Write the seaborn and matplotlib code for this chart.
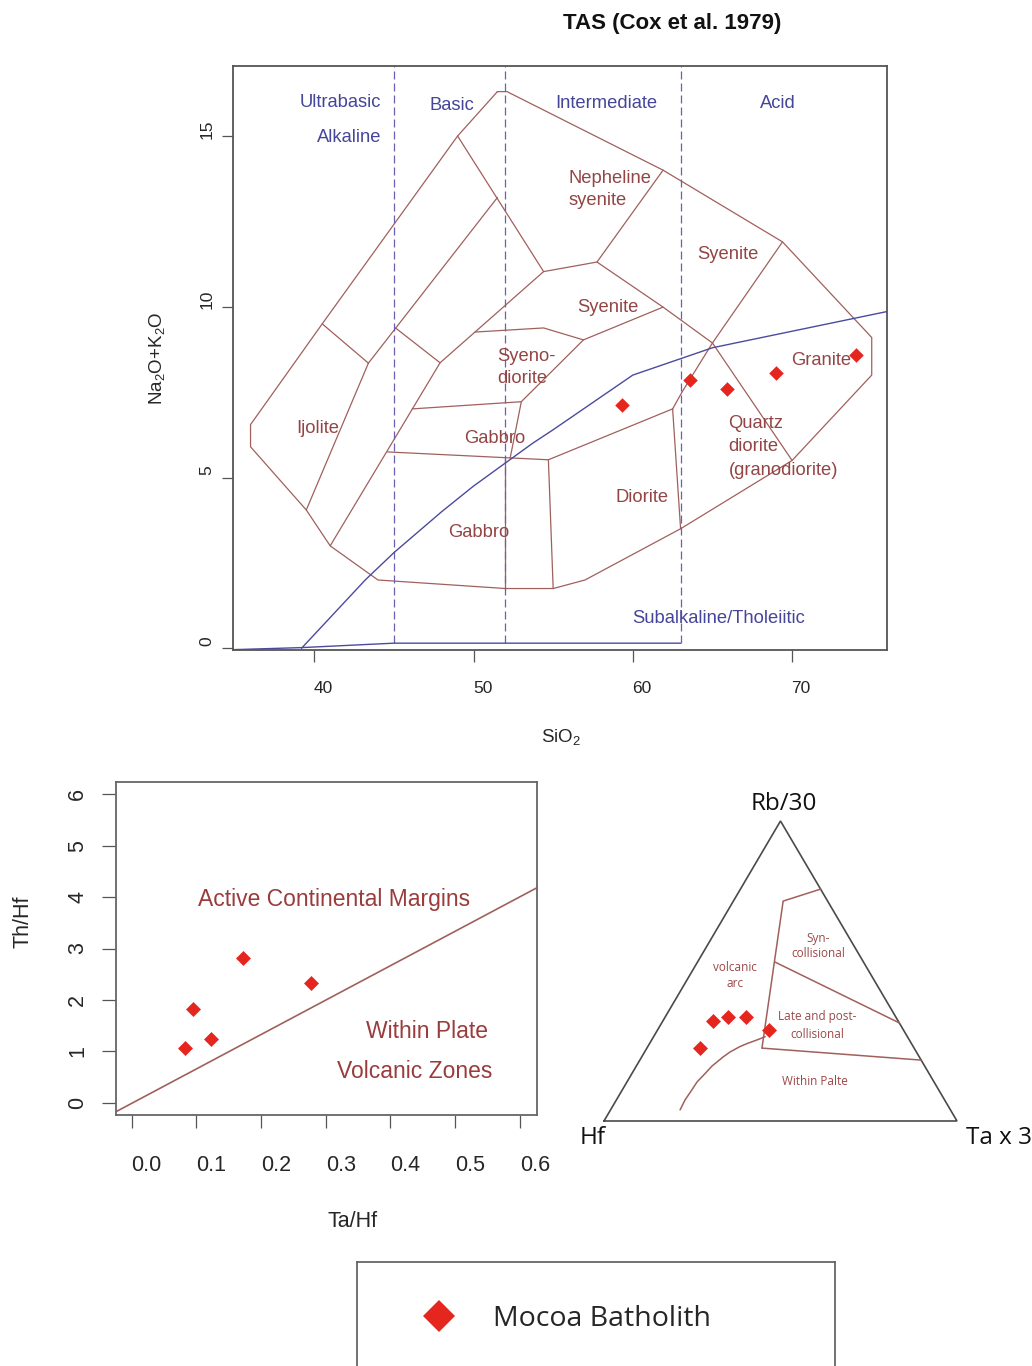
import numpy as np
import pandas as pd
import matplotlib
matplotlib.use("Agg")
import matplotlib.pyplot as plt
import matplotlib.transforms as mtransforms
from matplotlib.lines import Line2D
import seaborn as sns

# ---------------- data ----------------
TITLE = "TAS (Cox et al. 1979)"
LEGEND_LABEL = "Mocoa Batholith"

# TAS samples (SiO2 vs Na2O+K2O)
sio2 = [59.3, 63.6, 65.9, 69.0, 74.0]
na2o_k2o = [7.13, 7.86, 7.59, 8.06, 8.59]

tas_xticks = [40, 50, 60, 70]
tas_yticks = [0, 5, 10, 15]
tas_xlim = (34.88, 75.94)
tas_ylim = (-0.05, 17.05)

# Cox et al. (1979) plutonic field outline
cox_outer_x = [51.5, 52.1, 61.9, 69.4, 75.0, 75.0, 70.0, 63.0, 57.0, 55.0,
               52.0, 44.0, 41.0, 39.5, 36.0, 36.0, 40.5, 49.0, 51.5]
cox_outer_y = [16.3, 16.3, 14.0, 11.9, 9.1, 8.0, 5.5, 3.5, 2.0, 1.75,
               1.75, 2.0, 3.0, 4.05, 5.9, 6.55, 9.5, 15.0, 16.3]
# internal field boundaries
cox_inner_x = [
    [43.4, 39.5],
    [51.5, 43.4],
    [40.5, 43.4],
    [49.0, 54.4, 57.75, 61.9],
    [54.4, 47.9, 41.0],
    [45.1, 47.9],
    [50.1, 54.4, 56.9, 61.9],
    [57.75, 61.9, 65.0, 70.0],
    [69.4, 65.0, 63.1, 62.5],
    [62.5, 63.0],
    [62.5, 54.7],
    [56.9, 53.0, 52.3],
    [46.15, 53.0],
    [44.6, 54.7],
    [54.7, 55.0],
    [52.0, 52.0],
]
cox_inner_y = [
    [8.35, 4.05],
    [13.2, 8.35],
    [9.5, 8.35],
    [15.0, 11.03, 11.31, 14.0],
    [11.03, 8.36, 3.0],
    [9.38, 8.36],
    [9.26, 9.38, 9.03, 9.99],
    [11.31, 9.99, 8.94, 5.5],
    [11.9, 8.94, 7.51, 7.01],
    [7.01, 3.5],
    [7.01, 5.52],
    [9.03, 7.22, 5.57],
    [7.01, 7.22],
    [5.75, 5.52],
    [5.52, 1.75],
    [5.58, 1.75],
]

# Irvine & Baragar alkaline / subalkaline divide
ib_x = [39.2, 40, 43.2, 45, 48, 50, 53.7, 55, 60, 65, 77.4]
ib_y = [0, 0.4, 2, 2.8, 4, 4.75, 6, 6.4, 8, 8.8, 10]
base_x = [34.9, 39.2, 45, 63]
base_y = [-0.04, 0.02, 0.15, 0.15]
silica_div = [45, 52, 63]
silica_div_bottom = 0.15

tas_group_labels = ["Ultrabasic", "Alkaline", "Basic", "Intermediate", "Acid",
                    "Subalkaline/Tholeiitic"]
rock_labels = ["Nepheline", "syenite", "Syenite", "Syenite", "Syeno-", "diorite",
               "Granite", "Ijolite", "Gabbro", "Quartz", "diorite",
               "(granodiorite)", "Diorite", "Gabbro"]

# Th/Hf vs Ta/Hf
ta_hf = [0.0824, 0.0947, 0.1226, 0.172, 0.277]
th_hf = [1.064, 1.82, 1.24, 2.815, 2.33]
ll_xticks = [0.0, 0.1, 0.2, 0.3, 0.4, 0.5, 0.6]
ll_yticks = [0, 1, 2, 3, 4, 5, 6]
ll_xlim = (-0.0243, 0.626)
ll_ylim = (-0.239, 6.245)
acm_line_x = [-0.03, 0.65]
acm_line_y = [-0.213, 4.34]
ll_labels = ["Active Continental Margins", "Within Plate", "Volcanic Zones"]

# Hf - Rb/30 - Ta*3 ternary (fractions)
tern_hf = [0.525, 0.475, 0.424, 0.381, 0.607]
tern_rb = [0.333, 0.347, 0.347, 0.303, 0.243]
tern_ta = [0.142, 0.178, 0.229, 0.316, 0.150]

tri_hf = [1, 0, 0, 1]
tri_rb = [0, 0, 1, 0]
tri_ta = [0, 1, 0, 0]

fld_syn_hf = [0.0, 0.126, 0.431]
fld_syn_rb = [0.773, 0.733, 0.243]
fld_syn_ta = [0.227, 0.141, 0.326]
fld_late_hf = [0.251, 0.0]
fld_late_rb = [0.53, 0.327]
fld_late_ta = [0.219, 0.673]
fld_wp_hf = [0.431, 0.0]
fld_wp_rb = [0.243, 0.203]
fld_wp_ta = [0.326, 0.797]
fld_curve_rb = [0.037, 0.070, 0.103, 0.130, 0.164, 0.183, 0.214, 0.230, 0.248,
                0.258, 0.270, 0.281]
fld_curve_ta = [0.197, 0.1945, 0.197, 0.1985, 0.209, 0.2143, 0.231, 0.242, 0.261,
                0.276, 0.298, 0.316]
fld_curve_hf = [0.766, 0.7355, 0.700, 0.6715, 0.627, 0.6027, 0.555, 0.528, 0.491,
                0.466, 0.432, 0.403]
tern_apex_labels = ["Rb/30", "Hf", "Ta x 3"]
tern_field_labels = ["volcanic", "arc", "Syn-", "collisional", "Late and post-",
                     "collisional", "Within Palte"]

# ---------------- style ----------------
sns.set_theme(style="white")
plt.rcParams['font.family'] = ['Liberation Sans', 'DejaVu Sans']
plt.rcParams['mathtext.default'] = 'regular'

BROWN = "#a0605c"
BROWN_TXT = "#934545"
BLUE_TXT = "#45459a"
BLUE_LINE = "#4b4b9e"
DASH = "#6a5fb0"
RED = "#e5261f"
FRAME = "#555555"
LL_TXT = "#9a3c3c"
TERN_TXT = "#9b4848"
SANS2 = ['Open Sans', 'DejaVu Sans']

W, H = 1032, 1366
fig = plt.figure(figsize=(W / 100, H / 100), dpi=100)
fig.patch.set_facecolor("white")


def px_axes(l, t, r, b):
    return fig.add_axes([l / W, 1 - b / H, (r - l) / W, (b - t) / H])


def shift_ticklabels(axis, dx_px, dy_px):
    off = mtransforms.ScaledTranslation(dx_px / 100, dy_px / 100, fig.dpi_scale_trans)
    for t in axis.get_major_ticks():
        t.label1.set_transform(t.label1.get_transform() + off)


def frame(a, color=FRAME, lw=1.3):
    for sp in a.spines.values():
        sp.set_visible(True)
        sp.set_color(color)
        sp.set_linewidth(lw)


def tern_xy(hf, rb, ta):
    hf, rb, ta = (np.asarray(v, dtype=float) for v in (hf, rb, ta))
    s = hf + rb + ta
    return (ta + rb / 2) / s, rb / s


# ---------------- TAS ----------------
ax = px_axes(232.7, 66, 886.7, 650)
frame(ax)
ax.set_xlim(*tas_xlim)
ax.set_ylim(*tas_ylim)

ax.plot(cox_outer_x, cox_outer_y, color=BROWN, lw=0.9, zorder=2)
for xs, ys in zip(cox_inner_x, cox_inner_y):
    ax.plot(xs, ys, color=BROWN, lw=0.9, zorder=2)
ax.plot(ib_x, ib_y, color=BLUE_LINE, lw=1.0, zorder=3)
ax.plot(base_x, base_y, color=BLUE_LINE, lw=1.0, zorder=3)
ax.vlines(silica_div, silica_div_bottom, tas_ylim[1], colors=DASH, lw=0.9,
          linestyles=(0, (6.4, 3.2)), zorder=2)

tas_df = pd.DataFrame({"SiO2": sio2, "alk": na2o_k2o})
sns.scatterplot(data=tas_df, x="SiO2", y="alk", marker="D", s=55, color=RED,
                linewidth=0, ax=ax, zorder=5)

ax.set_xticks(tas_xticks)
ax.set_yticks(tas_yticks)
ax.set_xticklabels([str(v) for v in tas_xticks])
ax.set_yticklabels([str(v) for v in tas_yticks])
ax.tick_params(axis='x', bottom=True, length=8.6, width=0.9, color=FRAME,
               pad=14.0, labelsize=12.5, direction='out')
ax.tick_params(axis='y', left=True, length=7.9, width=0.9, color=FRAME,
               pad=5.0, labelsize=12.5, direction='out', labelrotation=90)
for lab in ax.get_yticklabels():
    lab.set_va('center')
shift_ticklabels(ax.xaxis, 9, 0)
shift_ticklabels(ax.yaxis, 0, 7)

ax.set_xlabel(r"SiO$_2$", fontsize=13.5, va='center')
ax.xaxis.set_label_coords(0.502, -0.149)
ax.set_ylabel(r"Na$_2$O+K$_2$O", fontsize=13.5, va='center')
ax.yaxis.set_label_coords(-0.1158, 0.5)

tas_group_x = [44.2, 44.2, 48.65, 58.32, 69.11, 65.41]
tas_group_y = [15.97, 14.97, 15.9, 15.96, 15.96, 0.86]
tas_group_ha = ["right", "right", "center", "center", "center", "center"]
for t, x, y, ha in zip(tas_group_labels, tas_group_x, tas_group_y, tas_group_ha):
    ax.text(x, y, t, color=BLUE_TXT, fontsize=13.2, ha=ha, va='center', zorder=4)

rock_x = [55.95, 55.95, 65.96, 58.44, 51.46, 51.46, 71.8, 40.24, 51.35, 66.0,
          66.0, 66.0, 60.57, 50.3]
rock_y = [13.77, 13.1, 11.52, 9.99, 8.53, 7.89, 8.44, 6.45, 6.13, 6.57, 5.9,
          5.22, 4.42, 3.38]
rock_ha = ["left", "left", "center", "center", "left", "left", "center", "center",
           "center", "left", "left", "left", "center", "center"]
for t, x, y, ha in zip(rock_labels, rock_x, rock_y, rock_ha):
    ax.text(x, y, t, color=BROWN_TXT, fontsize=13.2, ha=ha, va='center', zorder=4)

fig.text(672 / W, 1 - 23 / H, TITLE, ha='center', va='center', fontsize=16,
         fontweight='bold', color="#111111")

# ---------------- Th/Hf vs Ta/Hf ----------------
axL = px_axes(116, 781.7, 536.7, 1115)
frame(axL, color="#666666")
axL.set_xlim(*ll_xlim)
axL.set_ylim(*ll_ylim)
sns.lineplot(x=acm_line_x, y=acm_line_y, sort=False, estimator=None,
             color=BROWN, lw=1.2, ax=axL)
ll_df = pd.DataFrame({"TaHf": ta_hf, "ThHf": th_hf})
sns.scatterplot(data=ll_df, x="TaHf", y="ThHf", marker="D", s=58, color=RED,
                linewidth=0, ax=axL, zorder=5)
axL.set_xticks(ll_xticks)
axL.set_yticks(ll_yticks)
axL.set_xticklabels([f"{v:.1f}" for v in ll_xticks])
axL.set_yticklabels([str(v) for v in ll_yticks])
axL.tick_params(axis='x', bottom=True, length=9.4, width=0.9, color="#555555",
                pad=19.4, labelsize=15.5, direction='out')
axL.tick_params(axis='y', left=True, length=10, width=0.9, color="#555555",
                pad=9.9, labelsize=15.5, direction='out', labelrotation=90)
for lab in axL.get_yticklabels():
    lab.set_va('center')
shift_ticklabels(axL.xaxis, 15, 0)
axL.set_xlabel("Ta/Hf", fontsize=15.5, va='center')
axL.xaxis.set_label_coords(0.563, -0.321)
axL.set_ylabel("Th/Hf", fontsize=15.5, va='center')
axL.yaxis.set_label_coords(-0.221, 0.579)

ll_lx = [0.312, 0.456, 0.4375]
ll_ly = [3.96, 1.395, 0.603]
for t, x, y in zip(ll_labels, ll_lx, ll_ly):
    axL.text(x, y, t, color=LL_TXT, fontsize=16.5, ha='center', va='center')

# ---------------- ternary ----------------
axT = px_axes(604, 821, 957, 1121)
axT.set_xlim(0, 1)
axT.set_ylim(0, 1)
axT.axis('off')

tx, ty = tern_xy(tri_hf, tri_rb, tri_ta)
axT.plot(tx, ty, color="#4a4a4a", lw=1.2, clip_on=False, solid_joinstyle='miter')
for h_, r_, t_ in [(fld_syn_hf, fld_syn_rb, fld_syn_ta),
                   (fld_late_hf, fld_late_rb, fld_late_ta),
                   (fld_wp_hf, fld_wp_rb, fld_wp_ta)]:
    fx, fy = tern_xy(h_, r_, t_)
    axT.plot(fx, fy, color=BROWN, lw=1.1, clip_on=False)
cx, cy = tern_xy(fld_curve_hf, fld_curve_rb, fld_curve_ta)
axT.plot(cx, cy, color=BROWN, lw=1.1, clip_on=False, solid_joinstyle='round')

px_, py_ = tern_xy(tern_hf, tern_rb, tern_ta)
tern_df = pd.DataFrame({"x": px_, "y": py_})
sns.scatterplot(data=tern_df, x="x", y="y", marker="D", s=58, color=RED,
                linewidth=0, ax=axT, zorder=5, clip_on=False)
axT.set_xlabel("")
axT.set_ylabel("")

apex_pos = [(0.51, 1.057), (-0.031, -0.057), (1.119, -0.057)]
for t, (x, y) in zip(tern_apex_labels, apex_pos):
    axT.text(x, y, t, transform=axT.transAxes, ha='center', va='center',
             fontsize=17.5, family=SANS2, color="#111111")
field_pos = [(0.371, 0.513), (0.371, 0.457), (0.606, 0.607), (0.606, 0.557),
             (0.603, 0.347), (0.603, 0.290), (0.598, 0.133)]
for t, (x, y) in zip(tern_field_labels, field_pos):
    axT.text(x, y, t, transform=axT.transAxes, ha='center', va='center',
             fontsize=8.5, family=SANS2, color=TERN_TXT)

# ---------------- legend box ----------------
legax = px_axes(357.3, 1261.7, 835, 1434.3)
frame(legax, color="#666666", lw=1.3)
legax.set_xticks([])
legax.set_yticks([])
handle = Line2D([], [], marker="D", color=RED, linestyle="none",
                markersize=15.8, markeredgewidth=0)
legax.legend(handles=[handle], labels=[LEGEND_LABEL], loc='center left',
             bbox_to_anchor=(0.141, 0.67), frameon=False, handlelength=1.0,
             handletextpad=1.4, borderpad=0, borderaxespad=0,
             prop={'family': SANS2, 'size': 20.5})

fig.savefig("out.png", dpi=100, facecolor="white")
